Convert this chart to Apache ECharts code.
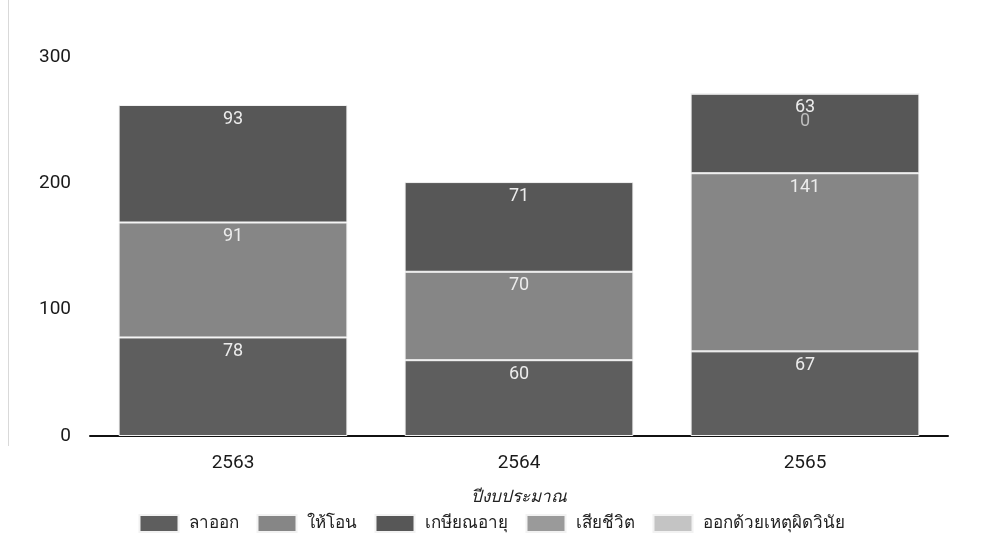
<!DOCTYPE html>
<html>
<head>
<meta charset="utf-8">
<script src="https://cdn.jsdelivr.net/npm/echarts@6/dist/echarts.min.js"></script>
<style>
html,body{margin:0;padding:0;background:#fff;}
#chart{width:983px;height:556px;}
</style>
</head>
<body>
<div id="chart"></div>
<script>
// Fiscal years on the category axis
const years = ['2563', '2564', '2565'];

// Staff departures by reason (stacked)
const resigned    = [78, 60, 67];        // ลาออก
const transferred = [91, 70, 141];       // ให้โอน
const retired     = [93, 71, 63];        // เกษียณอายุ
const deceased    = [null, null, 0];     // เสียชีวิต
const dismissed   = [null, null, null];  // ออกด้วยเหตุผิดวินัย

const yTicks = [0, 100, 200, 300];

const seriesDefs = [
  { name: 'ลาออก', data: resigned, color: '#5e5e5e' },
  { name: 'ให้โอน', data: transferred, color: '#868686' },
  { name: 'เกษียณอายุ', data: retired, color: '#575757' },
  { name: 'เสียชีวิต', data: deceased, color: '#9a9a9a' },
  { name: 'ออกด้วยเหตุผิดวินัย', data: dismissed, color: '#c4c4c4' }
];

const chart = echarts.init(document.getElementById('chart'));
chart.setOption({
  animation: false,
  graphic: [{
    type: 'line',
    shape: { x1: 8.5, y1: 0, x2: 8.5, y2: 446 },
    style: { stroke: '#d9d9d9', lineWidth: 1 }
  }],
  grid: { left: 90, right: 35, top: 57, bottom: 120 },
  legend: {
    bottom: 18,
    left: 'center',
    icon: 'rect',
    itemWidth: 39,
    itemHeight: 17,
    itemGap: 18,
    textStyle: { fontSize: 17, color: '#222', padding: [0, 0, 0, 5], fontFamily: 'Noto Sans, DejaVu Sans, sans-serif' },
    data: seriesDefs.map(s => s.name)
  },
  xAxis: {
    type: 'category',
    data: years,
    name: 'ปีงบประมาณ',
    nameLocation: 'middle',
    nameGap: 53,
    nameTextStyle: { fontSize: 17, fontStyle: 'italic', color: '#222' },
    axisLine: { lineStyle: { color: '#111', width: 2 } },
    axisTick: { show: false },
    axisLabel: { fontSize: 19, color: '#1a1a1a', margin: 18, fontFamily: 'Roboto, sans-serif' }
  },
  yAxis: {
    type: 'value',
    min: yTicks[0],
    max: yTicks[yTicks.length - 1],
    interval: 100,
    splitLine: { show: false },
    axisLine: { show: false },
    axisTick: { show: false },
    axisLabel: { fontSize: 19, color: '#1a1a1a', margin: 19, fontFamily: 'Roboto, sans-serif' }
  },
  series: seriesDefs.map(s => ({
    name: s.name,
    type: 'bar',
    stack: 'total',
    barWidth: '80%',
    data: s.data,
    itemStyle: { color: s.color, borderColor: '#f2f2f2', borderWidth: 1 },
    label: {
      show: true,
      position: 'insideTop',
      distance: 5,
      color: s.name === 'เสียชีวิต' ? '#bdbdbd' : '#ececec',
      fontSize: 18,
      fontFamily: 'Roboto, sans-serif',
      offset: s.name === 'เสียชีวิต' ? [0, 14] : [0, 0],
      formatter: p => (p.value === null || p.value === undefined) ? '' : String(p.value)
    }
  }))
});
</script>
</body>
</html>
